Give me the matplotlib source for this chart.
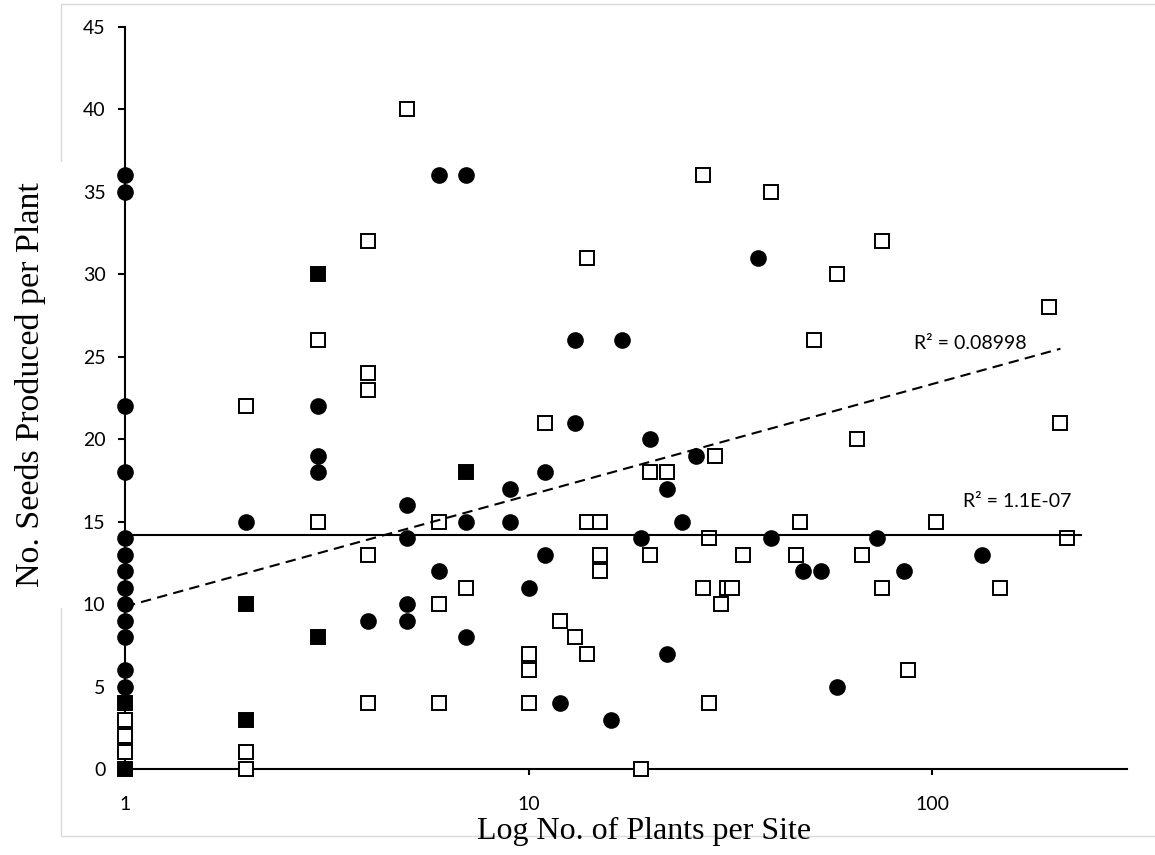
import numpy as np
import matplotlib
matplotlib.use('Agg')
import matplotlib.pyplot as plt
from matplotlib.patches import Rectangle


OUT_PATH = 'out.png'

# filled circles
CIRCLE_X = [1, 1, 1, 1, 1, 1, 1, 1, 1, 1, 1, 1, 1,
            2, 3, 3, 3, 4, 5, 5, 5, 5, 6, 6, 7, 7, 7,
            9, 9, 10, 11, 11, 12, 13, 13, 16, 17, 19, 20, 22, 22,
            24, 26, 37, 40, 48, 53, 58, 73, 85, 133]
CIRCLE_Y = [36, 35, 22, 18, 14, 13, 12, 11, 10, 9, 8, 6, 5,
            15, 22, 19, 18, 9, 16, 14, 10, 9, 36, 12, 36, 15, 8,
            17, 15, 11, 18, 13, 4, 26, 21, 3, 26, 14, 20, 17, 7,
            15, 19, 31, 14, 12, 12, 5, 14, 12, 13]

# open squares
SQUARE_X = [1, 1, 1, 2, 2, 2, 3, 3, 4, 4, 4, 4, 4, 5,
            6, 6, 6, 7, 10, 10, 10, 11, 12, 13, 14, 14, 14,
            15, 15, 15, 19, 20, 20, 22, 27, 27, 28, 28, 29, 30, 31, 32,
            34, 40, 46, 47, 51, 58, 65, 67, 75, 75, 87, 102, 147,
            195, 208, 216]
SQUARE_Y = [3, 2, 1, 22, 1, 0, 26, 15, 32, 24, 23, 13, 4, 40,
            15, 10, 4, 11, 7, 6, 4, 21, 9, 8, 31, 15, 7,
            15, 13, 12, 0, 18, 13, 18, 36, 11, 14, 4, 19, 10, 11, 11,
            13, 35, 13, 15, 26, 30, 20, 13, 32, 11, 6, 15, 11,
            28, 21, 14]

# sites where both a circle and a square fall on the same value
BOTH_X = [1, 1, 2, 2, 3, 3, 7]
BOTH_Y = [4, 0, 10, 3, 30, 8, 18]

# logarithmic trend lines: y = a*ln(x) + b over [x_start, x_end]
TREND_DASHED = {'a': 2.93, 'b': 9.85, 'x': (1, 208), 'r2': 'R² = 0.08998'}
TREND_SOLID = {'a': 0.0, 'b': 14.2, 'x': (1, 234), 'r2': 'R² = 1.1E-07'}

X_TICKS = [1, 10, 100]
Y_TICKS = list(range(0, 50, 5))

SANS = ['Lato', 'DejaVu Sans']
SERIF = ['Liberation Serif', 'DejaVu Serif']


def trend_line(ax, trend, style):
    xs = np.geomspace(trend['x'][0], trend['x'][1], 200)
    ys = trend['a'] * np.log(xs) + trend['b']
    ax.plot(xs, ys, color='black', lw=1.5, zorder=5, **style)


def draw(fig):
    ax = fig.add_axes([0.1082, 0.1006, 0.8675, 0.8678])
    ax.set_xscale('log')
    ax.set_xlim(1, 304)
    ax.set_ylim(0, 45)

    ax.plot(CIRCLE_X, CIRCLE_Y, ls='none', marker='o', ms=12,
            mfc='black', mec='black', mew=0, zorder=3, clip_on=False)
    ax.plot(SQUARE_X, SQUARE_Y, ls='none', marker='s', ms=9.6,
            mfc='white', mec='black', mew=1.4, zorder=4, clip_on=False)
    ax.plot(BOTH_X, BOTH_Y, ls='none', marker='s', ms=9.6,
            mfc='black', mec='black', mew=1.4, zorder=4, clip_on=False)

    trend_line(ax, TREND_DASHED, {'ls': (0, (5, 3))})
    trend_line(ax, TREND_SOLID, {'ls': '-'})

    ax.text(0.8400, 0.5980, TREND_DASHED['r2'], transform=fig.transFigure,
            ha='center', va='center', fontsize=14, family=SANS)
    ax.text(0.8805, 0.4140, TREND_SOLID['r2'], transform=fig.transFigure,
            ha='center', va='center', fontsize=14, family=SANS)

    for side in ('top', 'right'):
        ax.spines[side].set_visible(False)
    for side in ('left', 'bottom'):
        ax.spines[side].set_linewidth(1.5)
        ax.spines[side].set_zorder(2)

    ax.set_xticks(X_TICKS)
    ax.set_xticklabels([str(t) for t in X_TICKS])
    ax.xaxis.set_minor_locator(matplotlib.ticker.NullLocator())
    ax.set_yticks(Y_TICKS)
    ax.tick_params(axis='x', length=4.5, width=1.5, pad=15, labelsize=14)
    ax.tick_params(axis='y', length=5, width=1.5, pad=9, labelsize=14)
    for lab in ax.get_xticklabels() + ax.get_yticklabels():
        lab.set_family(SANS)
    ax.patch.set_alpha(0)
    return ax


def main():
    fig = plt.figure(figsize=(11.55, 8.55), dpi=100)

    # light chart-area frame
    fig.patches.append(Rectangle((0.0528, 0.0222), 1.0, 0.9731,
                                 transform=fig.transFigure, fill=False,
                                 ec='#d9d9d9', lw=1.0, zorder=0))

    draw(fig)

    fig.text(0.026, 0.550, 'No. Seeds Produced per Plant', rotation=90,
             ha='center', va='center', fontsize=24.5, family=SERIF,
             bbox=dict(boxstyle='square,pad=0.6', fc='white', ec='none'))
    fig.text(0.558, 0.027, 'Log No. of Plants per Site',
             ha='center', va='center', fontsize=23, family=SERIF)

    fig.savefig(OUT_PATH, dpi=100)
    plt.close(fig)


if __name__ == '__main__':
    main()
